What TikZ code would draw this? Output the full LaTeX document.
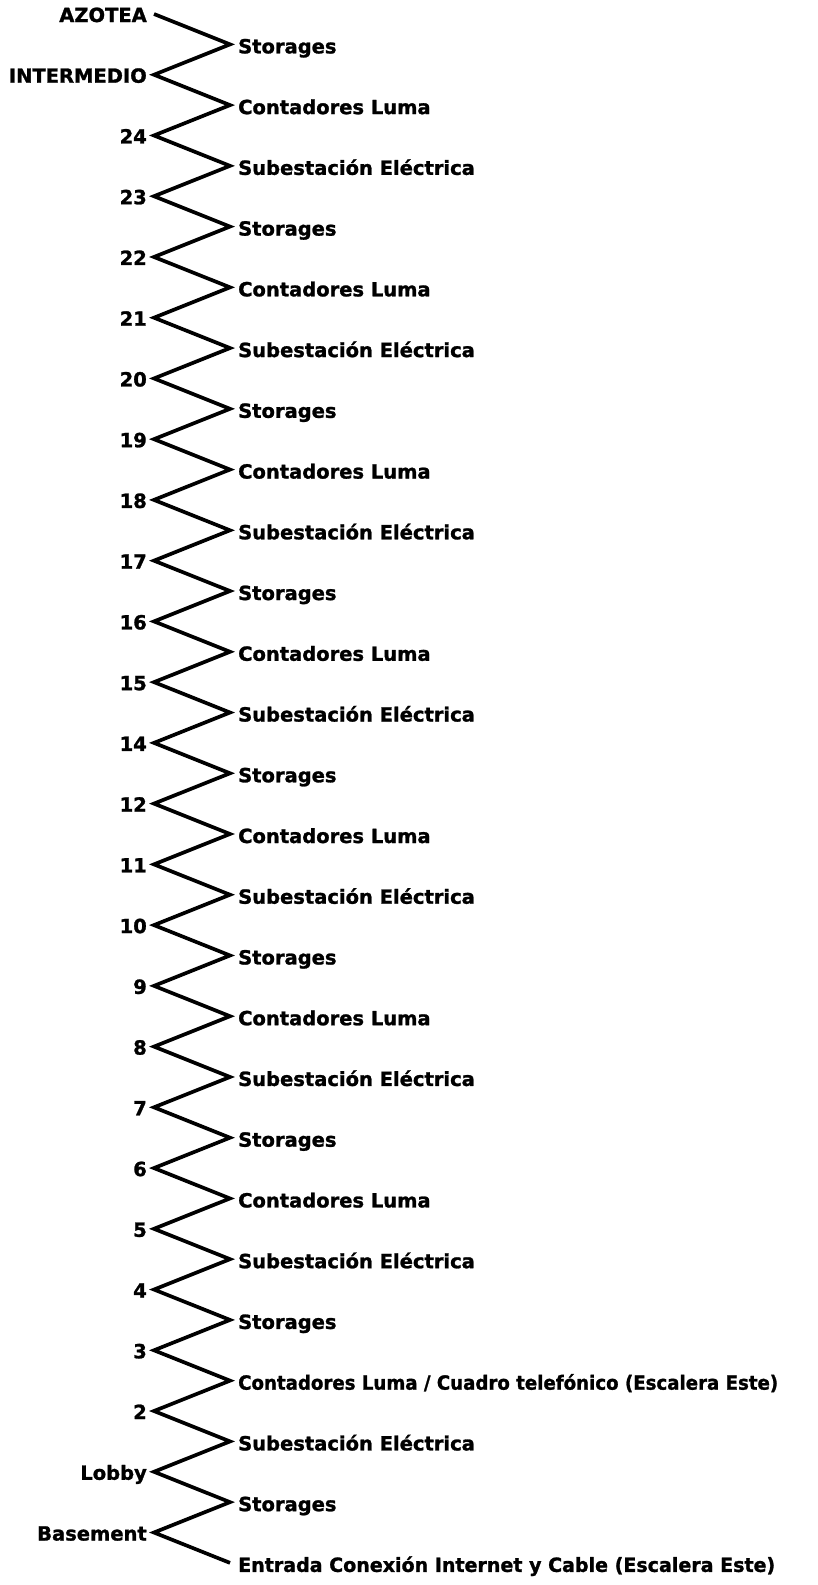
\documentclass[tikz,border=0pt]{standalone}
\usepackage{fontspec}
\setmainfont[BoldFeatures={FakeBold=1.3}]{DejaVu Sans}
\usepackage{graphicx}
\begin{document}
\begin{tikzpicture}[x=1pt,y=-1pt,
  lbl/.style={font=\bfseries\fontsize{19.5}{22}\selectfont, inner sep=0pt},
  zig/.style={line width=3.7pt, line join=miter, line cap=butt}]
\useasboundingbox[fill=white] (0,0) rectangle (817,1585);
\foreach \i in {0,...,51} {
  \pgfmathsetmacro\yy{14+\i*30.37}
  \ifodd\i \coordinate (v\i) at (230,\yy); \else \coordinate (v\i) at (154,\yy); \fi
}
\draw[zig] (v0) \foreach \i in {1,...,51}{ -- (v\i)};
\foreach \i/\t in {0/AZOTEA,2/INTERMEDIO,4/24,6/23,8/22,10/21,12/20,14/19,16/18,18/17,20/16,22/15,24/14,26/12,28/11,30/10,32/9,34/8,36/7,38/6,40/5,42/4,44/3,46/2,48/Lobby,50/Basement}
  \node[lbl, anchor=base east] (L\i) at ([xshift=-7pt,yshift=-8pt]v\i) {\t};
\foreach \i/\t in {1/Storages,3/Contadores Luma,5/Subestación Eléctrica,
  7/Storages,9/Contadores Luma,11/Subestación Eléctrica,
  13/Storages,15/Contadores Luma,17/Subestación Eléctrica,
  19/Storages,21/Contadores Luma,23/Subestación Eléctrica,
  25/Storages,27/Contadores Luma,29/Subestación Eléctrica,
  31/Storages,33/Contadores Luma,35/Subestación Eléctrica,
  37/Storages,39/Contadores Luma,41/Subestación Eléctrica,
  43/Storages,47/Subestación Eléctrica,49/Storages}
  \node[lbl, anchor=base west] (R\i) at ([xshift=8pt,yshift=-9pt]v\i) {\t};
\node[lbl, anchor=base west] (R45) at ([xshift=8pt,yshift=-9pt]v45)
  {\resizebox{540pt}{\height}{Contadores Luma / Cuadro telefónico (Escalera Este)}};
\node[lbl, anchor=base west] (R51) at ([xshift=8pt,yshift=-9pt]v51)
  {\resizebox{537pt}{\height}{Entrada Conexión Internet y Cable (Escalera Este)}};
\end{tikzpicture}
\end{document}
